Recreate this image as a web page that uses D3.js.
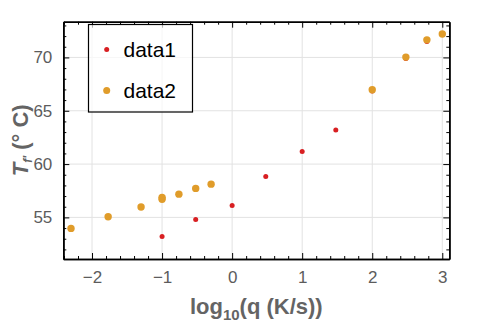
<!DOCTYPE html>
<html><head><meta charset="utf-8">
<script src="https://cdn.jsdelivr.net/npm/d3@7"></script>
<style>body{margin:0;background:#fff}svg{display:block}</style>
</head><body>
<script>
const data1X = [-1, -0.52, 0, 0.48, 1, 1.48, 2, 2.48, 2.78];
const data1Y = [53.22, 54.81, 56.12, 58.84, 61.19, 63.2, 66.85, 69.9, 71.5];
const data2X = [-2.3, -1.77, -1.3, -1, -1, -0.76, -0.52, -0.3, 2.0, 2.48, 2.78, 3.0];
const data2Y = [53.97, 55.06, 55.97, 56.7, 56.88, 57.18, 57.72, 58.12, 66.97, 70.03, 71.65, 72.2];
const xTicks = [-2, -1, 0, 1, 2, 3];
const yTicks = [55, 60, 65, 70];
const seriesNames = ["data1", "data2"];
const seriesColors = ["#d81f22", "#e09c2a"];

const W = 491, H = 329;
const m = {l: 63.3, t: 21.7, r: 491 - 449.3, b: 329 - 259};
const svg = d3.select("body").append("svg").attr("width", W).attr("height", H);
const x = d3.scaleLinear().domain([-2.41, 3.1]).range([m.l, W - m.r]);
const y = d3.scaleLinear().domain([51.1, 73.35]).range([H - m.b, m.t]);

// grid
const g = svg.append("g");
g.selectAll(".gx").data(xTicks).join("line")
  .attr("x1", d => x(d)).attr("x2", d => x(d)).attr("y1", y.range()[0]).attr("y2", y.range()[1])
  .attr("stroke", "#e2e2e2").attr("stroke-width", 1);
g.selectAll(".gy").data(yTicks).join("line")
  .attr("y1", d => y(d)).attr("y2", d => y(d)).attr("x1", x.range()[0]).attr("x2", x.range()[1])
  .attr("stroke", "#e2e2e2").attr("stroke-width", 1);

// minor tick values
const xMinor = d3.range(-2.4, 3.11, 0.2).map(v => +v.toFixed(2)).filter(v => !xTicks.some(t => Math.abs(t - v) < 1e-6));
const yMinor = d3.range(52, 73.5, 1).filter(v => !yTicks.includes(v));

svg.append("g").attr("transform", `translate(0,${y.range()[0]})`)
  .call(d3.axisBottom(x).tickValues(xTicks).tickSizeInner(-6).tickSizeOuter(0).tickPadding(12).tickFormat(d => d < 0 ? "\u2212" + Math.abs(d) : d));
svg.append("g").attr("transform", `translate(0,${y.range()[0]})`)
  .call(d3.axisBottom(x).tickValues(xMinor).tickSizeInner(-3).tickSizeOuter(0).tickFormat(""));
svg.append("g").attr("transform", `translate(0,${y.range()[1]})`)
  .call(d3.axisTop(x).tickValues(xTicks).tickSizeInner(-6).tickSizeOuter(0).tickFormat(""));
svg.append("g").attr("transform", `translate(0,${y.range()[1]})`)
  .call(d3.axisTop(x).tickValues(xMinor).tickSizeInner(-3).tickSizeOuter(0).tickFormat(""));
svg.append("g").attr("transform", `translate(${x.range()[0]},0)`)
  .call(d3.axisLeft(y).tickValues(yTicks).tickSizeInner(-6).tickSizeOuter(0).tickPadding(11));
svg.append("g").attr("transform", `translate(${x.range()[0]},0)`)
  .call(d3.axisLeft(y).tickValues(yMinor).tickSizeInner(-3).tickSizeOuter(0).tickFormat(""));
svg.append("g").attr("transform", `translate(${x.range()[1]},0)`)
  .call(d3.axisRight(y).tickValues(yTicks).tickSizeInner(-6).tickSizeOuter(0).tickFormat(""));
svg.append("g").attr("transform", `translate(${x.range()[1]},0)`)
  .call(d3.axisRight(y).tickValues(yMinor).tickSizeInner(-3).tickSizeOuter(0).tickFormat(""));

svg.selectAll(".domain").attr("stroke", "#000").attr("stroke-width", 1.6);
svg.selectAll(".tick line").attr("stroke", "#000").attr("stroke-width", 1);
svg.selectAll(".tick text").attr("fill", "#5c5c5c").style("font-family", "Liberation Sans, Arial, sans-serif").style("font-size", "17px");

// points
const pts = svg.append("g");
pts.selectAll(".p1").data(data1X.map((d, i) => [d, data1Y[i]])).join("circle")
  .attr("cx", d => x(d[0])).attr("cy", d => y(d[1])).attr("r", 2.5).attr("fill", seriesColors[0]);
pts.selectAll(".p2").data(data2X.map((d, i) => [d, data2Y[i]])).join("circle")
  .attr("cx", d => x(d[0])).attr("cy", d => y(d[1])).attr("r", 3.7).attr("fill", seriesColors[1]);

// legend
const lg = svg.append("g");
lg.append("rect").attr("x", 88.5).attr("y", 24.5).attr("width", 104).attr("height", 87.5)
  .attr("fill", "#fff").attr("fill-opacity", 0.7).attr("stroke", "#000").attr("stroke-width", 1.2);
const legR = [2.5, 3.5];
seriesNames.forEach((n, i) => {
  const cy = 49.5 + i * 41;
  lg.append("circle").attr("cx", 106.7).attr("cy", cy).attr("r", legR[i]).attr("fill", seriesColors[i]);
  lg.append("text").attr("x", 123.5).attr("y", cy + 7.5).text(n)
    .attr("fill", "#000").style("font-family", "Liberation Sans, Arial, sans-serif").style("font-size", "21px");
});

// axis labels
const xlab = svg.append("text").attr("x", (x.range()[0] + x.range()[1]) / 2).attr("y", 314)
  .attr("text-anchor", "middle").attr("fill", "#646464")
  .style("font-family", "Liberation Sans, Arial, sans-serif").style("font-size", "22px").style("font-weight", "bold");
xlab.append("tspan").text("log");
xlab.append("tspan").attr("dy", 6).style("font-size", "15px").text("10");
xlab.append("tspan").attr("dy", -6).text("(q (K/s))");

const ylab = svg.append("text").attr("transform", `translate(28,${(y.range()[0] + y.range()[1]) / 2}) rotate(-90)`)
  .attr("text-anchor", "middle").attr("fill", "#646464")
  .style("font-family", "Liberation Sans, Arial, sans-serif").style("font-size", "22px").style("font-weight", "bold");
ylab.append("tspan").style("font-style", "italic").text("T");
ylab.append("tspan").attr("dy", 4).style("font-size", "12px").style("font-style", "italic").text("f\u2032");
ylab.append("tspan").attr("dy", -4).text(" (\u00b0 C)");
</script>
</body></html>
